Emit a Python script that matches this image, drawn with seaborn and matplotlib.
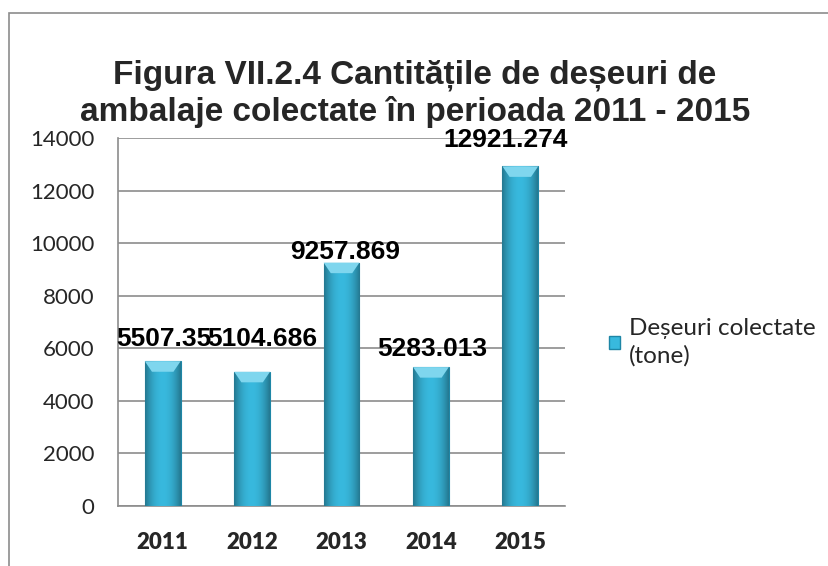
import numpy as np
import pandas as pd
import matplotlib
matplotlib.use("Agg")
import matplotlib.pyplot as plt
import seaborn as sns
from matplotlib.patches import Rectangle, Polygon

years = ["2011", "2012", "2013", "2014", "2015"]
values = [5507.35, 5104.686, 9257.869, 5283.013, 12921.274]
value_labels = ["5507.35", "5104.686", "9257.869", "5283.013", "12921.274"]
y_ticks = [0, 2000, 4000, 6000, 8000, 10000, 12000, 14000]
series_name = "Deșeuri colectate\n(tone)"
title = "Figura VII.2.4 Cantitățile de deșeuri de\nambalaje colectate în perioada 2011 - 2015"

# hand-placed label offsets (pixels: dx, dy of the baseline from the bar top)
label_offsets = [(1, 15), (10, 26), (4, 4), (1, 11), (-15, 19)]

sns.set_theme(style="white")
plt.rcParams["font.family"] = ["Liberation Sans", "DejaVu Sans"]

df = pd.DataFrame({"An": years, "Cantitate": values})

fig = plt.figure(figsize=(8.29, 5.66), dpi=100)
ax = fig.add_axes([118 / 829, 1 - 506 / 566, 447 / 829, 368 / 566])

bar_color = "#38B9DE"
edge_color = "#1E86A6"
sns.barplot(data=df, x="An", y="Cantitate", color=bar_color, width=0.4,
            saturation=1, ax=ax, zorder=3, edgecolor=edge_color, linewidth=0.8)

ax.set_ylim(0, 14000)
ax.set_xlim(-0.5, 4.5)
ax.set_yticks(y_ticks)
ax.set_yticklabels([str(t) for t in y_ticks], fontsize=16, family="Lato")
ax.set_xticklabels(years, fontsize=16, fontweight="heavy", family="Lato")
ax.tick_params(axis="x", pad=19, length=0)
ax.tick_params(axis="y", pad=17, length=0)
ax.set_xlabel("")
ax.set_ylabel("")
ax.grid(axis="y", color="#8C8C8C", linewidth=1.2, zorder=0)
for side in ["top", "right"]:
    ax.spines[side].set_visible(False)
for side in ["left", "bottom"]:
    ax.spines[side].set_color("#8C8C8C")
    ax.spines[side].set_linewidth(1.2)

# shaded cylinder look on each bar: darker sides, lighter middle, bevelled top
grad = np.linspace(-1, 1, 64)
shade = 1 - 0.35 * grad ** 2
base = np.array(matplotlib.colors.to_rgb(bar_color))
img = np.clip(base[None, None, :] * shade[None, :, None], 0, 1)
for patch in ax.patches:
    x0, y0 = patch.get_x(), patch.get_y()
    w, h = patch.get_width(), patch.get_height()
    im = ax.imshow(img, extent=[x0, x0 + w, y0, y0 + h], aspect="auto",
                   zorder=3.5, interpolation="bicubic")
    im.set_clip_path(patch)
    bev = 400
    ax.add_patch(Polygon([[x0, y0 + h], [x0 + w, y0 + h],
                          [x0 + w * 0.8, y0 + h - bev], [x0 + w * 0.2, y0 + h - bev]],
                         closed=True, facecolor="#7FD6EE", edgecolor="none", zorder=4))

for i, (v, lab) in enumerate(zip(values, value_labels)):
    dx, dy = label_offsets[i]
    ax.annotate(lab, xy=(i, v), xytext=(dx, dy), textcoords="offset pixels",
                ha="center", va="baseline", fontsize=19, fontweight="bold",
                color="black", zorder=5, annotation_clip=False)

# legend
handle = Rectangle((0, 0), 1, 1, facecolor=bar_color, edgecolor=edge_color)
leg = fig.legend([handle], [series_name], loc="upper left",
                 bbox_to_anchor=(597 / 829, 1 - 306 / 566), frameon=False,
                 prop={"family": "Lato", "size": 17.5}, handlelength=0.45,
                 handleheight=0.45, handletextpad=0.35, borderpad=0)
leg.get_texts()[0].set_linespacing(1.35)

fig.text(415 / 829, 1 - 94 / 566, title, ha="center", va="center",
         fontsize=24, fontweight="bold", linespacing=1.22)

# chart frame
fig.add_artist(Rectangle((9 / 829, -0.05), 1.0, 1 - 13 / 566 + 0.05,
                         transform=fig.transFigure, fill=False,
                         edgecolor="#8C8C8C", linewidth=1.2))

fig.savefig("out.png", dpi=100, facecolor="white")
